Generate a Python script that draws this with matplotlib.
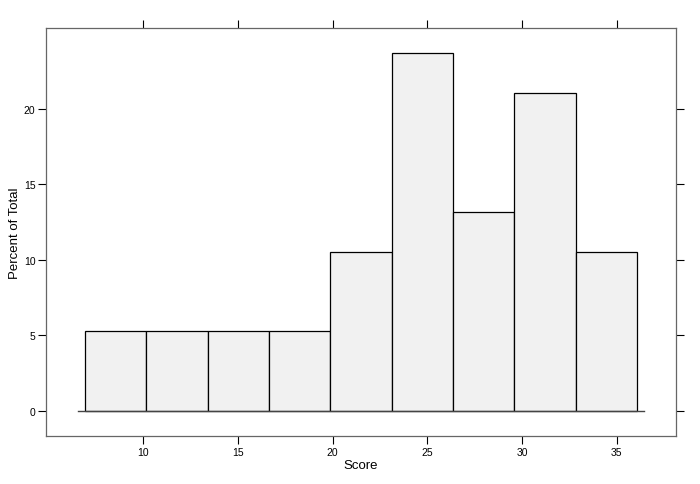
import matplotlib
matplotlib.use("Agg")
import matplotlib.pyplot as plt
import numpy as np

plt.rcParams['font.family'] = ['Liberation Sans', 'DejaVu Sans']

# histogram bins (Score) and heights (Percent of Total)
bin_edges = [6.92, 10.16, 13.40, 16.64, 19.88, 23.12, 26.36, 29.60, 32.84, 36.08]
percent = [5.26, 5.26, 5.26, 5.26, 10.53, 23.68, 13.16, 21.05, 10.53]
x_ticks = [10, 15, 20, 25, 30, 35]
y_ticks = [0, 5, 10, 15, 20]

fig = plt.figure(figsize=(7, 4.85), dpi=100)
ax = fig.add_axes([0.0664, 0.0996, 0.8989, 0.8400])

edges = np.array(bin_edges)
ax.bar(edges[:-1], percent, width=np.diff(edges), align='edge',
       color='#f1f1f1', edgecolor='black', linewidth=0.9, zorder=2)

# baseline across the bars
span = edges[-1] - edges[0]
ax.plot([edges[0] - 0.0134 * span, edges[-1] + 0.0134 * span], [0, 0],
        color='#444444', linewidth=1.0, zorder=3)

pad = 0.07
ax.set_xlim(edges[0] - pad * span, edges[-1] + pad * span)
ymax = max(percent)
ax.set_ylim(-pad * ymax, ymax * (1 + pad))

ax.set_xticks(x_ticks)
ax.set_yticks(y_ticks)
ax.tick_params(direction='out', length=6, width=0.8, color='black',
               labelsize=7.5, top=True, right=True,
               labeltop=False, labelright=False, pad=2)
for s in ax.spines.values():
    s.set_color('#666666')
    s.set_linewidth(0.9)

ax.set_xlabel('Score', fontsize=9.5)
ax.set_ylabel('Percent of Total', fontsize=9.5)
ax.xaxis.set_label_coords(0.5, -0.072)
ax.yaxis.set_label_coords(-0.05, 0.5)
ax.xaxis.label.set_va('center')
ax.yaxis.label.set_va('center')

fig.savefig('out.png', dpi=100)
